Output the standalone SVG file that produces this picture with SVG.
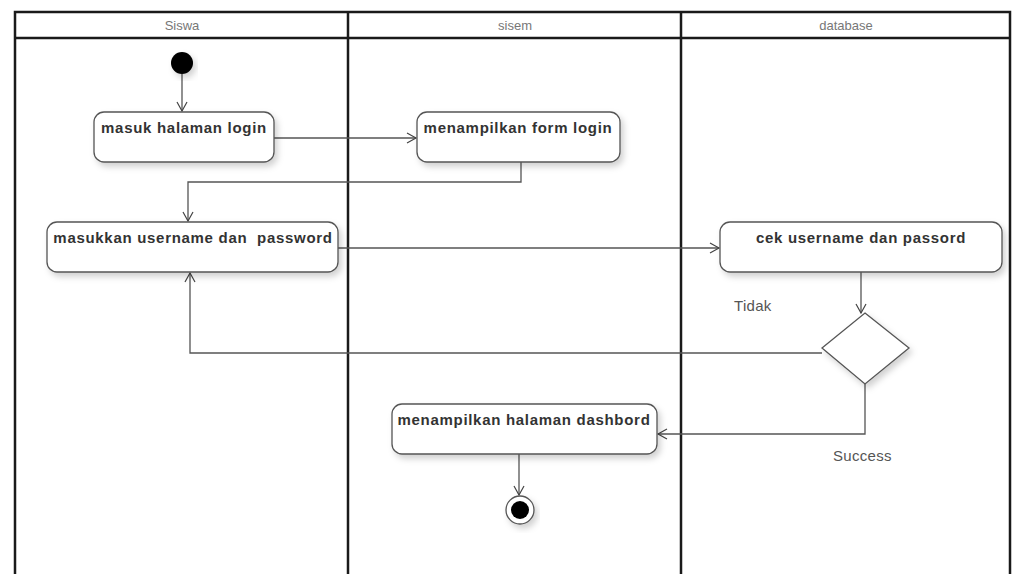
<svg xmlns="http://www.w3.org/2000/svg" width="1014" height="574" viewBox="0 0 1014 574">
<defs>
<marker id="arr" markerWidth="12" markerHeight="12" refX="10" refY="6" orient="auto" markerUnits="userSpaceOnUse">
<path d="M1,1 L10,6 L1,11" fill="none" stroke="#444" stroke-width="1.2"/>
</marker>
<filter id="sh" x="-10%" y="-10%" width="130%" height="140%">
<feDropShadow dx="3" dy="4" stdDeviation="3" flood-color="#000" flood-opacity="0.18"/>
</filter>
</defs>
<style>
.lane{fill:none;stroke:#1a1a1a;stroke-width:2.5}
.hdr{font-family:"Liberation Sans",Arial,sans-serif;font-size:13px;fill:#777;text-anchor:middle}
.box{fill:#fff;stroke:#555;stroke-width:1.3;filter:url(#sh)}
.bt{font-family:"Liberation Sans",Arial,sans-serif;font-size:15px;letter-spacing:0.7px;font-weight:bold;fill:#333;text-anchor:middle}
.lbl{font-family:"Liberation Sans",Arial,sans-serif;font-size:15px;letter-spacing:0.3px;fill:#555}
.con{fill:none;stroke:#555;stroke-width:1.3}
</style>
<rect width="1014" height="574" fill="#fff"/>
<g id="lanes">
<path class="lane" d="M15,590 L15,12 L1010,12 L1010,590"/>
<line class="lane" x1="15" y1="38" x2="1010" y2="38"/>
<line class="lane" x1="348" y1="12" x2="348" y2="590"/>
<line class="lane" x1="681" y1="12" x2="681" y2="590"/>
<text class="hdr" x="182" y="30">Siswa</text>
<text class="hdr" x="515" y="30">sisem</text>
<text class="hdr" x="846" y="30">database</text>
</g>
<g id="connectors">
<line class="con" x1="182" y1="74" x2="182" y2="111" marker-end="url(#arr)"/>
<line class="con" x1="274" y1="138" x2="416" y2="138" marker-end="url(#arr)"/>
<polyline class="con" points="521,162 521,182 188,182 188,221" marker-end="url(#arr)"/>
<line class="con" x1="338" y1="248" x2="719" y2="248" marker-end="url(#arr)"/>
<line class="con" x1="861" y1="272" x2="861" y2="313" marker-end="url(#arr)"/>
<polyline class="con" points="822,353 190,353 190,273" marker-end="url(#arr)"/>
<polyline class="con" points="865,384 865,434 658,434" marker-end="url(#arr)"/>
<line class="con" x1="519" y1="454" x2="519" y2="495" marker-end="url(#arr)"/>
<text class="lbl" x="734" y="311">Tidak</text>
<text class="lbl" x="833" y="461">Success</text>
</g>
<g id="start">
<circle cx="182" cy="63" r="11" fill="#000" filter="url(#sh)"/>
</g>
<g id="masuk">
<rect class="box" x="94" y="112" width="180" height="50" rx="10"/>
<text class="bt" x="184" y="133">masuk halaman login</text>
</g>
<g id="form">
<rect class="box" x="417" y="112" width="203" height="50" rx="10"/>
<text class="bt" x="518" y="133">menampilkan form login</text>
</g>
<g id="masukkan">
<rect class="box" x="47" y="222" width="291" height="50" rx="10"/>
<text class="bt" x="193" y="243" xml:space="preserve">masukkan username dan  password</text>
</g>
<g id="cek">
<rect class="box" x="720" y="222" width="282" height="50" rx="10"/>
<text class="bt" x="861" y="243">cek username dan passord</text>
</g>
<g id="decision">
<polygon class="box" points="865,313 909,348 865,384 822,348"/>
</g>
<g id="dashboard">
<rect class="box" x="392" y="404" width="265" height="50" rx="10"/>
<text class="bt" x="524" y="425">menampilkan halaman dashbord</text>
</g>
<g id="end">
<circle cx="520" cy="510" r="14" fill="#fff" stroke="#555" stroke-width="1.3" filter="url(#sh)"/>
<circle cx="520" cy="510" r="9" fill="#000"/>
</g>
</svg>
